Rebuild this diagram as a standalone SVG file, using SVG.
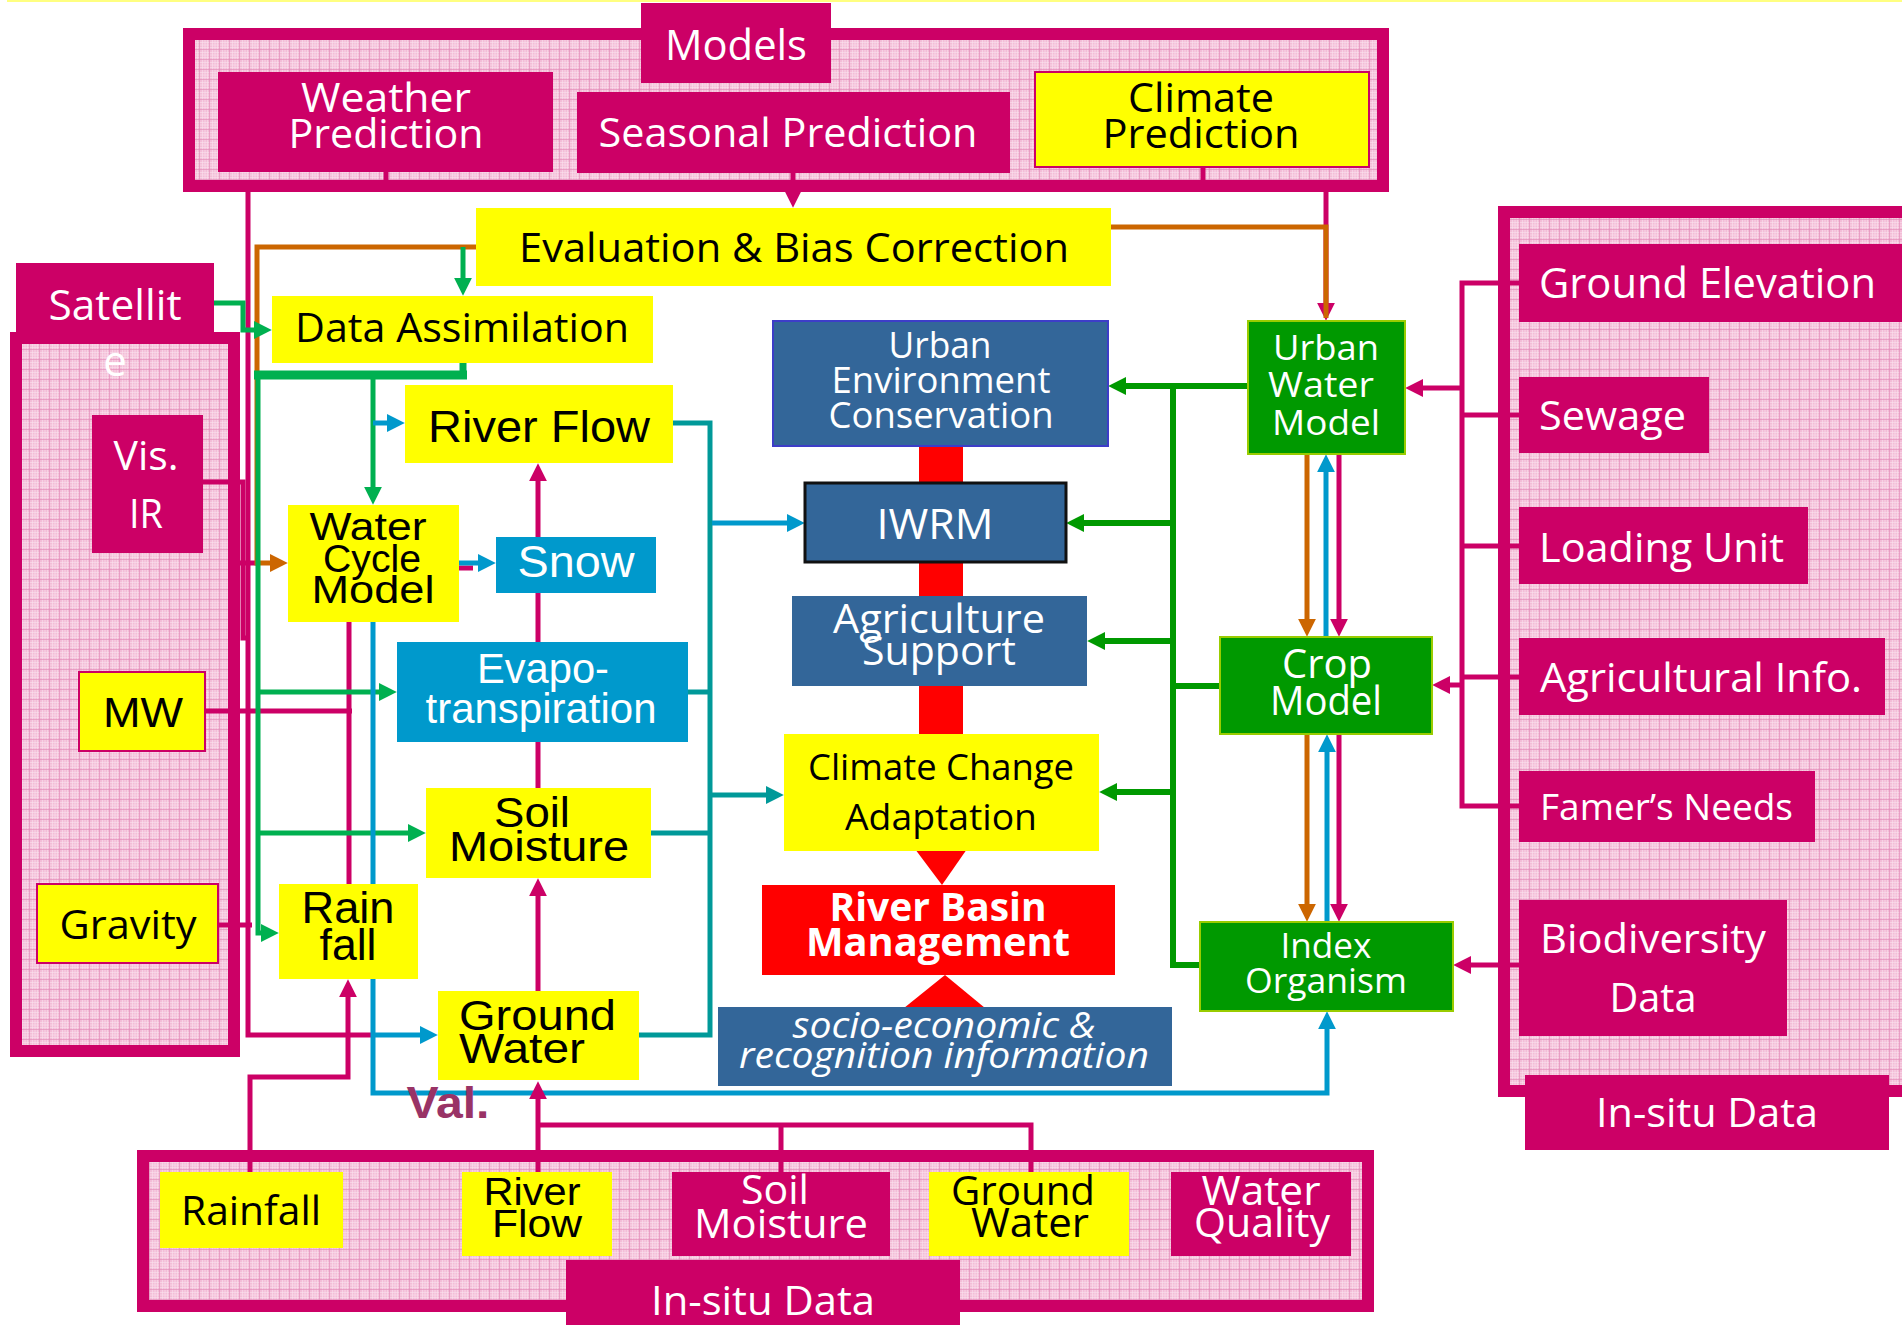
<svg xmlns="http://www.w3.org/2000/svg" width="1902" height="1325" viewBox="0 0 1902 1325">
<defs>
<pattern id="grid" width="10" height="10" patternUnits="userSpaceOnUse">
<rect width="10" height="10" fill="#f3bdd7"/>
<path d="M0 2.5H10M0 5H10M0 7.5H10M2.5 0V10M5 0V10M7.5 0V10" stroke="#fae0ed" stroke-width="0.6"/>
<path d="M0 9.5H10M9.5 0V10" stroke="#e48fba" stroke-width="0.7"/>
</pattern>
<marker id="m-mag" viewBox="0 0 10 10" refX="4" refY="5" markerWidth="18" markerHeight="18" markerUnits="userSpaceOnUse" orient="auto"><path d="M0,0L10,5L0,10z" fill="#cc0066"/></marker>
<marker id="m-gl" viewBox="0 0 10 10" refX="4" refY="5" markerWidth="18" markerHeight="18" markerUnits="userSpaceOnUse" orient="auto"><path d="M0,0L10,5L0,10z" fill="#00b050"/></marker>
<marker id="m-gd" viewBox="0 0 10 10" refX="4" refY="5" markerWidth="18" markerHeight="18" markerUnits="userSpaceOnUse" orient="auto"><path d="M0,0L10,5L0,10z" fill="#009900"/></marker>
<marker id="m-or" viewBox="0 0 10 10" refX="4" refY="5" markerWidth="18" markerHeight="18" markerUnits="userSpaceOnUse" orient="auto"><path d="M0,0L10,5L0,10z" fill="#cc6600"/></marker>
<marker id="m-bl" viewBox="0 0 10 10" refX="4" refY="5" markerWidth="18" markerHeight="18" markerUnits="userSpaceOnUse" orient="auto"><path d="M0,0L10,5L0,10z" fill="#0099cc"/></marker>
<marker id="m-te" viewBox="0 0 10 10" refX="4" refY="5" markerWidth="18" markerHeight="18" markerUnits="userSpaceOnUse" orient="auto"><path d="M0,0L10,5L0,10z" fill="#009999"/></marker>
</defs>
<style>
.frame{fill:url(#grid);stroke:#cc0066;stroke-width:12}
.mag{fill:#cc0066}
.yel{fill:#ffff00}
.yelb{fill:#ffff00;stroke:#cc0066;stroke-width:2}
.sky{fill:#0099cc}
.steel{fill:#336699}
.grn{fill:#009900;stroke:#99cc00;stroke-width:2}
.red{fill:#ff0000}
text{text-anchor:middle}
.os{font-family:"Open Sans","Noto Sans","DejaVu Sans",sans-serif}
.ar{font-family:"Liberation Sans",Arial,sans-serif}
.w{fill:#ffffff}
.k{fill:#000000}
.st{text-anchor:start}
.c{fill:none;stroke-width:5;stroke-linecap:butt;stroke-linejoin:miter}
.cm{stroke:#cc0066}
.cgl{stroke:#00b050}
.cgd{stroke:#009900;stroke-width:6}
.co{stroke:#cc6600}
.cb{stroke:#0099cc}
.ct{stroke:#009999}
</style>
<rect x="7" y="0" width="1895" height="2" fill="#ffff80"/>

<g id="frames">
<rect id="models-frame" class="frame" x="189" y="34" width="1194" height="152"/>
<rect id="satellite-frame" class="frame" x="16" y="338" width="218" height="713"/>
<rect id="insitu-right-frame" class="frame" x="1504" y="212" width="420" height="879"/>
<rect id="insitu-bottom-frame" class="frame" x="143" y="1156" width="1225" height="150"/>
</g>

<g id="connectors">
<rect x="919" y="446" width="44" height="290" fill="#ff0000"/>
<polygon points="915,849 967,849 942,885" fill="#ff0000"/>
<polygon points="904,1008 985,1008 945,975" fill="#ff0000"/>
<path class="c cm" d="M386,172V192M1203,167V192"/>
<path class="c cm" d="M793,173V197" marker-end="url(#m-mag)"/>
<path class="c cm" d="M1326,192V310" marker-end="url(#m-mag)"/>
<path class="c co" d="M1111,227H1326V318"/>
<path class="c cm" d="M248,192V1035H373"/>
<path class="c cm" d="M203,482H243V638H250M237,563H257M205,711H352M349,622V884M218,925H252M459,568H473"/>
<path class="c co" d="M476,247H257V563H277" marker-end="url(#m-or)"/>
<path class="c cgl" d="M463,247V285" marker-end="url(#m-gl)"/>
<path class="c cgl" d="M213,303H243V330H261" marker-end="url(#m-gl)"/>
<path class="c cgl" d="M463,363V379" style="stroke-width:7"/>
<path class="c cgl" d="M254,375H467" style="stroke-width:9"/>
<path class="c cgl" d="M258,375V933H268" marker-end="url(#m-gl)"/>
<path class="c cgl" d="M373,375V494" marker-end="url(#m-gl)"/>
<path class="c cgl" d="M258,692H386" marker-end="url(#m-gl)"/>
<path class="c cgl" d="M258,833H415" marker-end="url(#m-gl)"/>
<path class="c cb" d="M373,423H394" marker-end="url(#m-bl)"/>
<path class="c cb" d="M459,563H485" marker-end="url(#m-bl)"/>
<path class="c cb" d="M373,622V1093H1327V1022" marker-end="url(#m-bl)"/>
<path class="c cb" d="M373,1035H427" marker-end="url(#m-bl)"/>
<path class="c cm" d="M538,537V474" marker-end="url(#m-mag)"/>
<path class="c cm" d="M538,642V593M538,788V742"/>
<path class="c cm" d="M538,991V889" marker-end="url(#m-mag)"/>
<path class="c cm" d="M538,1172V1092" marker-end="url(#m-mag)"/>
<path class="c cm" d="M538,1125H1031V1172M781,1125V1172"/>
<path class="c cm" d="M250,1172V1077H348V990" marker-end="url(#m-mag)"/>
<path class="c ct" d="M673,423H710V1035H639M688,692H710M651,833H710"/>
<path class="c ct" d="M710,795H773" marker-end="url(#m-te)"/>
<path class="c cb" d="M712,523H794" marker-end="url(#m-bl)"/>
<path class="c cgd" d="M1248,386H1119" marker-end="url(#m-gd)"/>
<path class="c cgd" d="M1173,383V965H1200M1220,686H1173"/>
<path class="c cgd" d="M1173,523H1077" marker-end="url(#m-gd)"/>
<path class="c cgd" d="M1173,641H1098" marker-end="url(#m-gd)"/>
<path class="c cgd" d="M1173,792H1110" marker-end="url(#m-gd)"/>
<path class="c co" d="M1307,454V626" marker-end="url(#m-or)"/>
<path class="c cb" d="M1326,637V465" marker-end="url(#m-bl)"/>
<path class="c cm" d="M1339,454V626" marker-end="url(#m-mag)"/>
<path class="c co" d="M1307,734V911" marker-end="url(#m-or)"/>
<path class="c cb" d="M1327,922V745" marker-end="url(#m-bl)"/>
<path class="c cm" d="M1339,734V911" marker-end="url(#m-mag)"/>
<path class="c cm" d="M1519,283H1462V806H1519M1519,415H1462M1519,546H1462M1519,677H1462"/>
<path class="c cm" d="M1462,388H1416" marker-end="url(#m-mag)"/>
<path class="c cm" d="M1462,685H1443" marker-end="url(#m-mag)"/>
<path class="c cm" d="M1519,965H1464" marker-end="url(#m-mag)"/>
</g>

<g id="models-label"><rect class="mag" x="641" y="3" width="190" height="80"/><text class="os w" x="736" y="60" font-size="42" textLength="142" lengthAdjust="spacingAndGlyphs">Models</text></g>
<g id="weather-prediction"><rect class="mag" x="218" y="72" width="335" height="100"/><text class="os w" x="386" y="112" font-size="41" textLength="170" lengthAdjust="spacingAndGlyphs">Weather</text><text class="os w" x="386" y="148" font-size="41" textLength="195" lengthAdjust="spacingAndGlyphs">Prediction</text></g>
<g id="seasonal-prediction"><rect class="mag" x="577" y="92" width="433" height="81"/><text class="os w" x="788" y="147" font-size="41" textLength="379" lengthAdjust="spacingAndGlyphs">Seasonal Prediction</text></g>
<g id="climate-prediction"><rect class="yelb" x="1035" y="72" width="334" height="95"/><text class="os k" x="1201" y="112" font-size="41" textLength="146" lengthAdjust="spacingAndGlyphs">Climate</text><text class="os k" x="1201" y="148" font-size="41" textLength="197" lengthAdjust="spacingAndGlyphs">Prediction</text></g>
<g id="evaluation"><rect class="yel" x="476" y="208" width="635" height="78"/><text class="os k" x="794" y="262" font-size="41" textLength="550" lengthAdjust="spacingAndGlyphs">Evaluation &amp; Bias Correction</text></g>
<g id="data-assimilation"><rect class="yel" x="272" y="296" width="381" height="67"/><text class="os k" x="462" y="342" font-size="40" textLength="334" lengthAdjust="spacingAndGlyphs">Data Assimilation</text></g>
<g id="satellite"><rect class="mag" x="16" y="263" width="198" height="70"/><text class="os w" x="115" y="320" font-size="42" textLength="133" lengthAdjust="spacingAndGlyphs">Satellit</text><text class="os w" x="115" y="376" font-size="42">e</text></g>
<g id="vis-ir"><rect class="mag" x="92" y="415" width="111" height="138"/><text class="os w" x="146" y="470" font-size="40" textLength="65" lengthAdjust="spacingAndGlyphs">Vis.</text><text class="os w" x="146" y="528" font-size="40" textLength="34" lengthAdjust="spacingAndGlyphs">IR</text></g>
<g id="mw"><rect class="yelb" x="79" y="672" width="126" height="79"/><text class="ar k" x="143" y="727" font-size="42" textLength="80" lengthAdjust="spacingAndGlyphs">MW</text></g>
<g id="gravity"><rect class="yelb" x="37" y="884" width="181" height="79"/><text class="os k" x="128" y="939" font-size="40" textLength="137" lengthAdjust="spacingAndGlyphs">Gravity</text></g>
<g id="river-flow"><rect class="yel" x="405" y="385" width="268" height="78"/><text class="ar k" x="539" y="442" font-size="44" textLength="222" lengthAdjust="spacingAndGlyphs">River Flow</text></g>
<g id="water-cycle-model"><rect class="yel" x="288" y="505" width="171" height="117"/><text class="ar k" x="368" y="540" font-size="38" textLength="117" lengthAdjust="spacingAndGlyphs">Water</text><text class="ar k" x="372" y="572" font-size="38" textLength="98" lengthAdjust="spacingAndGlyphs">Cycle</text><text class="ar k" x="373" y="603" font-size="38" textLength="123" lengthAdjust="spacingAndGlyphs">Model</text></g>
<g id="snow"><rect class="sky" x="496" y="537" width="160" height="56"/><text class="ar w" x="576" y="577" font-size="45" textLength="117" lengthAdjust="spacingAndGlyphs">Snow</text></g>
<g id="evapotranspiration"><rect class="sky" x="397" y="642" width="291" height="100"/><text class="ar w" x="543" y="683" font-size="42" textLength="132" lengthAdjust="spacingAndGlyphs">Evapo-</text><text class="ar w" x="541" y="723" font-size="42" textLength="231" lengthAdjust="spacingAndGlyphs">transpiration</text></g>
<g id="soil-moisture"><rect class="yel" x="426" y="788" width="225" height="90"/><text class="ar k" x="532" y="827" font-size="43" textLength="76" lengthAdjust="spacingAndGlyphs">Soil</text><text class="ar k" x="539" y="861" font-size="43" textLength="180" lengthAdjust="spacingAndGlyphs">Moisture</text></g>
<g id="rain-fall"><rect class="yel" x="279" y="884" width="139" height="95"/><text class="ar k" x="348" y="923" font-size="44" textLength="93" lengthAdjust="spacingAndGlyphs">Rain</text><text class="ar k" x="348" y="960" font-size="44" textLength="57" lengthAdjust="spacingAndGlyphs">fall</text></g>
<g id="ground-water"><rect class="yel" x="438" y="991" width="201" height="89"/><text class="ar k st" x="459" y="1030" font-size="43" textLength="157" lengthAdjust="spacingAndGlyphs">Ground</text><text class="ar k st" x="459" y="1063" font-size="43" textLength="126" lengthAdjust="spacingAndGlyphs">Water</text></g>
<g id="urban-environment"><rect class="steel" x="773" y="321" width="335" height="125" stroke="#3d3dc8" stroke-width="2"/><text class="os w" x="940" y="358" font-size="36" textLength="103" lengthAdjust="spacingAndGlyphs">Urban</text><text class="os w" x="941" y="393" font-size="36" textLength="219" lengthAdjust="spacingAndGlyphs">Environment</text><text class="os w" x="941" y="428" font-size="36" textLength="225" lengthAdjust="spacingAndGlyphs">Conservation</text></g>
<g id="iwrm"><rect class="steel" x="805" y="483" width="261" height="79" stroke="#111111" stroke-width="3"/><text class="os w" x="935" y="539" font-size="42" textLength="117" lengthAdjust="spacingAndGlyphs">IWRM</text></g>
<g id="agriculture-support"><rect class="steel" x="792" y="596" width="295" height="90"/><text class="os w" x="939" y="633" font-size="40" textLength="212" lengthAdjust="spacingAndGlyphs">Agriculture</text><text class="os w" x="939" y="665" font-size="40" textLength="154" lengthAdjust="spacingAndGlyphs">Support</text></g>
<g id="climate-change-adaptation"><rect class="yel" x="784" y="734" width="315" height="117"/><text class="os k" x="941" y="780" font-size="36" textLength="266" lengthAdjust="spacingAndGlyphs">Climate Change</text><text class="os k" x="941" y="830" font-size="36" textLength="192" lengthAdjust="spacingAndGlyphs">Adaptation</text></g>
<g id="river-basin-management"><rect class="red" x="762" y="885" width="353" height="90"/><text class="os w" x="938" y="921" font-size="39" font-weight="bold" textLength="217" lengthAdjust="spacingAndGlyphs">River Basin</text><text class="os w" x="938" y="956" font-size="39" font-weight="bold" textLength="264" lengthAdjust="spacingAndGlyphs">Management</text></g>
<g id="socio-economic"><rect class="steel" x="718" y="1007" width="454" height="79"/><text class="os w" x="944" y="1038" font-size="36" font-style="italic" textLength="303" lengthAdjust="spacingAndGlyphs">socio-economic &amp;</text><text class="os w" x="944" y="1068" font-size="36" font-style="italic" textLength="410" lengthAdjust="spacingAndGlyphs">recognition information</text></g>
<g id="urban-water-model"><rect class="grn" x="1248" y="321" width="157" height="133"/><text class="os w" x="1326" y="360" font-size="35" textLength="106" lengthAdjust="spacingAndGlyphs">Urban</text><text class="os w" x="1321" y="397" font-size="35" textLength="106" lengthAdjust="spacingAndGlyphs">Water</text><text class="os w" x="1326" y="435" font-size="35" textLength="108" lengthAdjust="spacingAndGlyphs">Model</text></g>
<g id="crop-model"><rect class="grn" x="1220" y="637" width="212" height="97"/><text class="os w" x="1327" y="678" font-size="41" textLength="90" lengthAdjust="spacingAndGlyphs">Crop</text><text class="os w" x="1326" y="715" font-size="41" textLength="112" lengthAdjust="spacingAndGlyphs">Model</text></g>
<g id="index-organism"><rect class="grn" x="1200" y="922" width="253" height="89"/><text class="os w" x="1326" y="958" font-size="34" textLength="91" lengthAdjust="spacingAndGlyphs">Index</text><text class="os w" x="1326" y="993" font-size="34" textLength="162" lengthAdjust="spacingAndGlyphs">Organism</text></g>
<g id="ground-elevation"><rect class="mag" x="1519" y="244" width="383" height="78"/><text class="os w st" x="1539" y="298" font-size="42" textLength="337" lengthAdjust="spacingAndGlyphs">Ground Elevation</text></g>
<g id="sewage"><rect class="mag" x="1519" y="377" width="190" height="76"/><text class="os w st" x="1539" y="430" font-size="41" textLength="147" lengthAdjust="spacingAndGlyphs">Sewage</text></g>
<g id="loading-unit"><rect class="mag" x="1519" y="507" width="289" height="77"/><text class="os w st" x="1539" y="562" font-size="41" textLength="245" lengthAdjust="spacingAndGlyphs">Loading Unit</text></g>
<g id="agricultural-info"><rect class="mag" x="1519" y="638" width="366" height="77"/><text class="os w st" x="1540" y="692" font-size="41" textLength="322" lengthAdjust="spacingAndGlyphs">Agricultural Info.</text></g>
<g id="famers-needs"><rect class="mag" x="1519" y="771" width="296" height="71"/><text class="os w st" x="1540" y="820" font-size="37" textLength="253" lengthAdjust="spacingAndGlyphs">Famer’s Needs</text></g>
<g id="biodiversity-data"><rect class="mag" x="1519" y="900" width="268" height="136"/><text class="os w" x="1653" y="953" font-size="41" textLength="226" lengthAdjust="spacingAndGlyphs">Biodiversity</text><text class="os w" x="1653" y="1012" font-size="41" textLength="87" lengthAdjust="spacingAndGlyphs">Data</text></g>
<g id="insitu-right-label"><rect class="mag" x="1525" y="1075" width="364" height="75"/><text class="os w" x="1707" y="1127" font-size="40" textLength="222" lengthAdjust="spacingAndGlyphs">In-situ Data</text></g>
<g id="rainfall-insitu"><rect class="yel" x="160" y="1172" width="183" height="76"/><text class="os k" x="251" y="1225" font-size="40" textLength="140" lengthAdjust="spacingAndGlyphs">Rainfall</text></g>
<g id="riverflow-insitu"><rect class="yel" x="462" y="1172" width="150" height="84"/><text class="ar k" x="532" y="1205" font-size="38" textLength="97" lengthAdjust="spacingAndGlyphs">River</text><text class="ar k" x="537" y="1237" font-size="38" textLength="90" lengthAdjust="spacingAndGlyphs">Flow</text></g>
<g id="soilmoisture-insitu"><rect class="mag" x="672" y="1172" width="218" height="84"/><text class="os w" x="775" y="1204" font-size="40" textLength="68" lengthAdjust="spacingAndGlyphs">Soil</text><text class="os w" x="781" y="1238" font-size="40" textLength="174" lengthAdjust="spacingAndGlyphs">Moisture</text></g>
<g id="groundwater-insitu"><rect class="yel" x="929" y="1172" width="200" height="84"/><text class="os k" x="1023" y="1205" font-size="40" textLength="144" lengthAdjust="spacingAndGlyphs">Ground</text><text class="os k" x="1030" y="1237" font-size="40" textLength="118" lengthAdjust="spacingAndGlyphs">Water</text></g>
<g id="waterquality-insitu"><rect class="mag" x="1171" y="1172" width="180" height="84"/><text class="os w" x="1261" y="1205" font-size="40" textLength="119" lengthAdjust="spacingAndGlyphs">Water</text><text class="os w" x="1262" y="1237" font-size="40" textLength="136" lengthAdjust="spacingAndGlyphs">Quality</text></g>
<g id="insitu-bottom-label"><rect class="mag" x="566" y="1260" width="394" height="70"/><text class="os w" x="763" y="1315" font-size="40" textLength="224" lengthAdjust="spacingAndGlyphs">In-situ Data</text></g>
<g id="val"><text class="ar" x="448" y="1118" font-size="45" font-weight="bold" fill="#993366" textLength="83" lengthAdjust="spacingAndGlyphs">Val.</text></g>
</svg>
